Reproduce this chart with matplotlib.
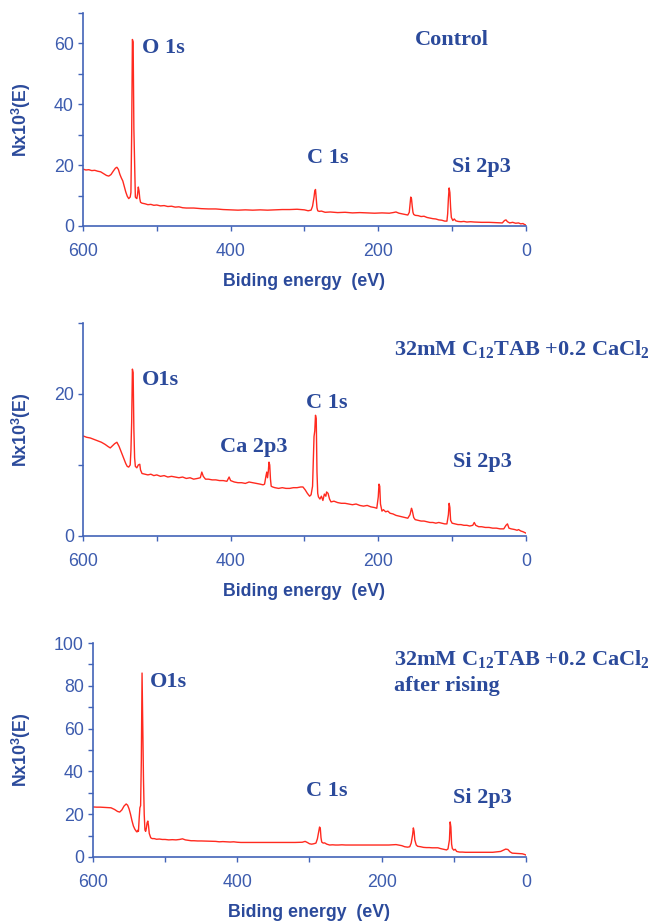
import matplotlib
matplotlib.use("Agg")
import matplotlib.pyplot as plt
from matplotlib.ticker import MultipleLocator

plt.rcParams['mathtext.fontset'] = 'custom'
plt.rcParams['mathtext.rm'] = 'Liberation Serif:bold'
plt.rcParams['mathtext.bf'] = 'Liberation Serif:bold'
plt.rcParams['mathtext.sf'] = 'Liberation Sans:bold'
plt.rcParams['mathtext.it'] = 'Liberation Serif:bold'

# ---------------- data ----------------
ctrl_energy = [600, 596, 592, 588, 584, 580, 576, 572, 568, 565, 562, 559, 556, 554, 552, 550,
               548, 546, 544, 542, 540, 538, 536, 535, 534, 533, 532, 531, 530, 529, 528, 527,
               526, 525, 524, 523, 522, 520, 516, 512, 508, 504, 500, 495, 490, 485, 480, 475,
               470, 465, 460, 450, 440, 430, 420, 410, 400, 390, 380, 370, 360, 350, 340, 330,
               320, 310, 300, 295, 291, 289, 287, 286, 285, 284, 283, 282, 280, 277, 272, 265,
               255, 245, 235, 225, 215, 205, 195, 185, 180, 176, 172, 168, 164, 160, 158, 157,
               156, 155, 154, 153, 152, 150, 146, 142, 138, 134, 130, 126, 122, 118, 114, 110,
               107, 106, 105, 104, 103, 102, 101, 99, 97, 95, 92, 88, 84, 80, 75, 70,
               60, 50, 40, 32, 29, 27, 25, 22, 18, 14, 10, 7, 4, 2, 0]
ctrl_counts = [18.7, 18.4, 18.5, 18.2, 18.3, 18.0, 17.8, 17.2, 16.6, 16.4, 16.9, 18.0, 19.0, 19.3, 18.6, 17.0,
               15.8, 14.8, 13.0, 11.2, 9.8, 9.0, 9.5, 11.0, 30.0, 61.3, 60.5, 32.0, 20.0, 9.5, 9.2, 9.0,
               10.5, 12.8, 11.5, 9.0, 7.8, 7.5, 7.3, 7.0, 7.1, 6.8, 6.9, 6.6, 6.7, 6.4, 6.5, 6.2,
               6.3, 6.0, 5.9, 5.9, 5.7, 5.6, 5.6, 5.4, 5.3, 5.2, 5.3, 5.2, 5.3, 5.2, 5.3, 5.4,
               5.4, 5.5, 5.3, 5.0, 5.2, 6.5, 9.5, 11.5, 12.0, 9.0, 6.0, 5.0, 4.8, 4.9, 4.5, 4.6,
               4.4, 4.5, 4.3, 4.4, 4.3, 4.2, 4.3, 4.2, 4.4, 4.6, 4.2, 4.0, 3.8, 3.6, 4.5, 7.0,
               9.5, 9.0, 6.5, 4.5, 3.8, 3.5, 3.4, 3.1, 3.2, 2.8, 2.6, 2.4, 2.3, 2.0, 1.9, 1.6,
               1.6, 4.0, 9.0, 12.5, 11.0, 6.0, 2.8, 1.8, 2.3, 1.7, 1.5, 1.4, 1.5, 1.3, 1.4, 1.3,
               1.2, 1.2, 1.1, 1.0, 1.8, 2.0, 1.4, 1.0, 1.2, 0.9, 1.0, 0.7, 0.8, 0.5, 0.3]

ca_energy = [600, 595, 590, 585, 580, 575, 570, 566, 563, 560, 557, 554, 551, 548, 545, 542,
             540, 538, 536, 535, 534, 533, 532, 531, 530, 529, 527, 525, 523, 522, 520, 516,
             512, 508, 504, 500, 495, 490, 485, 480, 475, 470, 465, 460, 455, 450, 445, 441,
             439, 437, 434, 430, 425, 420, 415, 410, 405, 402, 400, 395, 390, 385, 380, 375,
             370, 365, 360, 356, 354, 352, 351, 350, 349, 348, 347, 346, 345, 343, 340, 335,
             330, 325, 320, 315, 310, 305, 302, 299, 296, 293, 291, 289, 288, 287, 286, 285,
             284, 283, 282, 281, 279, 277, 275, 273, 271, 270, 268, 266, 264, 260, 255, 250,
             245, 240, 235, 230, 225, 220, 215, 210, 205, 202, 200, 199, 198, 197, 195, 193,
             190, 187, 184, 180, 176, 172, 168, 164, 160, 157, 155, 154, 152, 150, 146, 142,
             138, 134, 130, 126, 122, 118, 114, 110, 107, 105, 104, 103, 102, 100, 96, 92,
             88, 84, 80, 76, 72, 70, 68, 64, 60, 55, 50, 45, 40, 35, 30, 27,
             25, 23, 20, 15, 12, 10, 7, 4, 2, 0]
ca_counts = [14.1, 13.9, 13.8, 13.6, 13.4, 13.2, 12.9, 12.6, 12.4, 12.7, 13.0, 13.2, 12.6, 11.8, 11.0, 10.2,
             9.8, 9.7, 10.0, 12.0, 16.0, 23.5, 23.0, 15.0, 11.0, 9.8, 9.6, 10.0, 10.1, 9.3, 8.8, 8.7,
             8.6, 8.7, 8.5, 8.6, 8.4, 8.5, 8.3, 8.4, 8.3, 8.2, 8.3, 8.1, 8.2, 8.0, 8.1, 8.2,
             9.0, 8.4, 8.0, 8.0, 7.9, 7.9, 7.8, 7.8, 7.7, 8.3, 7.8, 7.6, 7.5, 7.5, 7.4, 7.6,
             7.5, 7.4, 7.3, 7.2, 7.3, 8.5, 9.0, 8.2, 9.0, 10.4, 10.0, 8.0, 7.0, 6.9, 6.8, 6.7,
             6.8, 6.7, 6.7, 6.8, 6.8, 6.9, 6.9, 6.5, 6.0, 5.6, 5.8, 7.0, 10.5, 14.0, 14.8, 17.0,
             16.5, 9.0, 6.0, 5.5, 5.2, 5.6, 5.0, 5.9, 5.6, 6.2, 6.0, 5.2, 4.8, 4.9, 4.7, 4.6,
             4.6, 4.5, 4.4, 4.5, 4.3, 4.2, 4.3, 4.1, 4.0, 3.9, 5.5, 7.3, 7.0, 4.5, 3.5, 3.7,
             3.4, 3.5, 3.2, 3.1, 2.9, 2.8, 2.7, 2.6, 2.5, 3.0, 3.9, 3.6, 2.6, 2.3, 2.2, 2.1,
             2.1, 2.0, 1.9, 1.9, 1.8, 1.9, 1.8, 1.7, 1.7, 3.0, 4.6, 4.0, 2.2, 1.8, 1.7, 1.6,
             1.6, 1.5, 1.5, 1.4, 1.5, 1.9, 1.5, 1.3, 1.3, 1.2, 1.2, 1.1, 1.1, 1.0, 1.0, 1.5,
             1.7, 1.1, 1.0, 0.9, 0.8, 0.9, 0.7, 0.6, 0.5, 0.4]

rinse_energy = [600, 595, 590, 585, 580, 575, 570, 566, 563, 560, 557, 554, 552, 550, 548, 546,
                544, 542, 540, 539, 538, 537, 536, 535, 534, 533, 532, 531, 530, 529, 528, 527,
                526, 525, 524, 523, 522, 520, 518, 515, 512, 508, 504, 500, 495, 490, 485, 480,
                476, 472, 468, 464, 460, 455, 450, 440, 430, 425, 420, 410, 405, 400, 395, 390,
                380, 370, 360, 350, 340, 330, 320, 310, 306, 303, 300, 297, 294, 291, 289, 287,
                286, 285, 284, 283, 281, 279, 276, 272, 268, 264, 260, 255, 250, 240, 230, 220,
                210, 200, 190, 185, 180, 177, 172, 168, 164, 161, 159, 157, 156, 155, 154, 152,
                150, 146, 142, 138, 134, 130, 126, 122, 118, 114, 110, 108, 106, 105, 104, 103,
                102, 100, 98, 96, 92, 88, 84, 80, 70, 60, 50, 46, 40, 35, 31, 28,
                25, 22, 19, 15, 10, 5, 2, 0]
rinse_counts = [23.4, 23.3, 23.3, 23.2, 23.1, 23.0, 22.2, 21.3, 21.0, 22.0, 23.8, 24.8, 24.2, 22.5, 20.0, 17.0,
                14.5, 13.0, 12.0, 11.7, 12.5, 12.0, 18.0, 23.0, 24.0, 45.0, 86.0, 60.0, 36.0, 20.0, 12.6, 12.0,
                13.5, 16.0, 16.8, 14.5, 11.0, 9.0, 8.6, 8.6, 8.3, 8.4, 8.2, 8.2, 8.0, 8.1, 8.0, 8.2,
                8.5, 8.0, 7.8, 7.6, 7.6, 7.5, 7.5, 7.4, 7.3, 7.1, 7.2, 7.0, 7.1, 6.9, 6.8, 6.8,
                6.8, 6.8, 6.8, 6.8, 6.8, 6.8, 6.8, 6.9, 7.3, 6.8, 6.2, 6.0, 6.2, 6.5, 8.5, 12.0,
                14.0, 13.5, 9.0, 7.0, 6.5, 6.6, 6.0, 5.6, 5.7, 5.6, 5.6, 5.7, 5.6, 5.6, 5.6, 5.6,
                5.6, 5.6, 5.6, 5.7, 5.8, 5.6, 5.3, 4.8, 4.6, 4.8, 6.5, 10.5, 13.6, 12.0, 8.0, 5.6,
                5.0, 4.8, 4.5, 4.4, 4.4, 4.3, 4.3, 4.3, 3.9, 3.6, 3.3, 3.8, 8.0, 16.4, 14.0, 6.0,
                4.0, 3.2, 3.6, 2.6, 2.3, 2.3, 2.2, 2.2, 2.2, 2.2, 2.2, 2.2, 2.4, 2.6, 3.2, 3.7,
                3.5, 2.4, 1.8, 1.7, 1.6, 1.5, 1.2, 0.9]

x_ticks = [600, 400, 200, 0]
ylabel_text = r'Nx10$^{\mathsf{3}}$(E)'
xlabel_text = 'Biding energy  (eV)'

# ---------------- style ----------------
LINE = '#FF2A1F'
AXC = '#4263B8'
TICKC = '#3D5CAE'
TXT = '#2B4A9B'

fig = plt.figure(figsize=(6.53, 9.22), dpi=100)

panels = [
    dict(rect=[0.127, 0.7549, 0.6784, 0.231], E=ctrl_energy, N=ctrl_counts, ylim=70,
         major=20, ylab_x=-0.14,
         notes=[('O 1s', 520, 58.5), ('C 1s', 297, 22.5), ('Si 2p3', 100, 19.3)],
         title=[('Control', 151, 61.0)]),
    dict(rect=[0.127, 0.4187, 0.6784, 0.231], E=ca_energy, N=ca_counts, ylim=30,
         major=20, ylab_x=-0.14,
         notes=[('O1s', 520, 22.0), ('C 1s', 298, 18.7), ('Ca 2p3', 414, 12.5), ('Si 2p3', 99, 10.4)],
         title=[(r'32mM C$_{\mathrm{12}}$TAB +0.2 CaCl$_{\mathrm{2}}$', 179, 26.3)]),
    dict(rect=[0.1424, 0.0705, 0.663, 0.232], E=rinse_energy, N=rinse_counts, ylim=100,
         major=20, ylab_x=-0.166,
         notes=[('O1s', 521, 82.0), ('C 1s', 305, 31.0), ('Si 2p3', 101, 27.6)],
         title=[(r'32mM C$_{\mathrm{12}}$TAB +0.2 CaCl$_{\mathrm{2}}$', 183, 92.5),
                ('after rising', 183, 80.0)]),
]

for p in panels:
    ax = fig.add_axes(p['rect'])
    ax.plot(p['E'], p['N'], color=LINE, lw=1.0)
    ax.set_xlim(600, 0)
    ax.set_ylim(0, p['ylim'])
    ax.xaxis.set_major_locator(MultipleLocator(200))
    ax.xaxis.set_minor_locator(MultipleLocator(100))
    ax.yaxis.set_major_locator(MultipleLocator(p['major']))
    ax.yaxis.set_minor_locator(MultipleLocator(10))
    for s in ['top', 'right']:
        ax.spines[s].set_visible(False)
    for s in ['left', 'bottom']:
        ax.spines[s].set_color(AXC)
        ax.spines[s].set_linewidth(1.2)
    ax.tick_params(which='both', direction='out', length=3.5, width=1.0, color=AXC,
                   labelcolor=TICKC, labelsize=12.8)
    ax.tick_params(axis='x', which='both', pad=9)
    ax.tick_params(axis='y', which='both', pad=3)
    for lab in ax.get_xticklabels() + ax.get_yticklabels():
        lab.set_fontfamily('Liberation Sans')
    ax.set_xlabel(xlabel_text, fontfamily='Liberation Sans', fontweight='bold',
                  fontsize=12.8, color=TXT)
    ax.xaxis.set_label_coords(0.5, -0.222)
    ax.set_ylabel(ylabel_text, fontfamily='Liberation Sans', fontweight='bold',
                  fontsize=12.8, color=TXT, va='center')
    ax.yaxis.set_label_coords(p['ylab_x'], 0.5)
    for t, x, y in p['notes'] + p['title']:
        ax.text(x, y, t, fontfamily='Liberation Serif', fontweight='bold', fontsize=16,
                color=TXT, ha='left', va='center', clip_on=False)

fig.savefig('out.png', dpi=100, facecolor='white')
